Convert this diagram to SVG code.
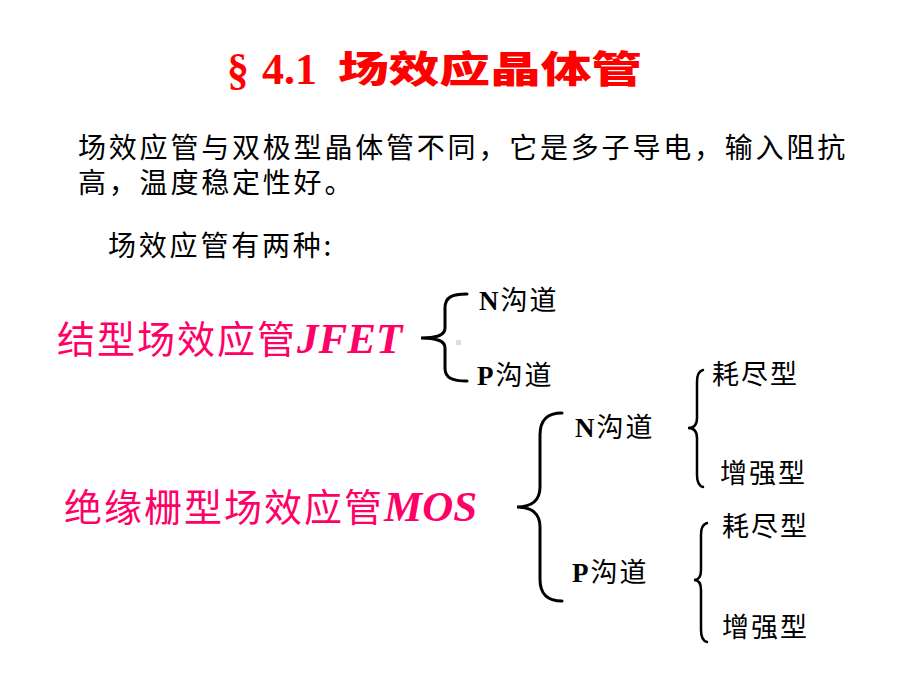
<svg xmlns="http://www.w3.org/2000/svg" width="920" height="690" viewBox="0 0 920 690">
<style>
.cjk{font-family:"Noto Sans CJK SC","Noto Sans",sans-serif;}
.body{font-size:28px;fill:#000;letter-spacing:2.8px;}
.pink{font-size:38px;fill:#FF0066;letter-spacing:2px;}
.pinkLat{font-family:"Liberation Serif",serif;font-weight:bold;font-style:italic;font-size:43px;fill:#FF0066;letter-spacing:0;}
.lab{font-size:27px;fill:#000;letter-spacing:2px;}
.latb{font-family:"Liberation Serif",serif;font-weight:bold;}
.brace{fill:none;stroke:#000;stroke-width:3;stroke-linecap:round;}
.brace2{fill:none;stroke:#000;stroke-width:2.5;stroke-linecap:round;}
</style>
<rect width="920" height="690" fill="#fff"/>
<g id="title">
<text x="227" y="84" font-family="Liberation Serif,serif" font-weight="bold" font-size="44" fill="#FF0000">§</text>
<text x="262" y="84" font-family="Liberation Serif,serif" font-weight="bold" font-size="44" fill="#FF0000">4.1</text>
<text transform="translate(338,83) scale(1,0.78)" x="0" y="0" class="cjk" font-weight="900" font-size="48" fill="#FF0000" textLength="304" lengthAdjust="spacingAndGlyphs">场效应晶体管</text>
</g>
<g id="intro">
<text x="78" y="158" class="cjk body">场效应管与双极型晶体管不同，它是多子导电，输入阻抗</text>
<text x="78" y="193" class="cjk body">高，温度稳定性好。</text>
<text x="108" y="256" class="cjk body">场效应管有两种:</text>
</g>
<g id="jfet">
<text x="57" y="353" class="cjk pink">结型场效应管<tspan class="pinkLat">JFET</tspan></text>
</g>
<g id="mos">
<text x="64" y="521" class="cjk pink">绝缘栅型场效应管<tspan class="pinkLat">MOS</tspan></text>
</g>
<g id="jfet-n"><text x="479" y="310" class="cjk lab"><tspan class="latb">N</tspan>沟道</text></g>
<g id="jfet-p"><text x="477" y="385" class="cjk lab"><tspan class="latb">P</tspan>沟道</text></g>
<g id="mos-n"><text x="575" y="437" class="cjk lab"><tspan class="latb">N</tspan>沟道</text></g>
<g id="mos-p"><text x="572" y="582" class="cjk lab"><tspan class="latb">P</tspan>沟道</text></g>
<g id="mos-n-dep"><text x="712" y="384" class="cjk lab">耗尽型</text></g>
<g id="mos-n-enh"><text x="720" y="483" class="cjk lab">增强型</text></g>
<g id="mos-p-dep"><text x="722" y="536" class="cjk lab">耗尽型</text></g>
<g id="mos-p-enh"><text x="722" y="637" class="cjk lab">增强型</text></g>
<g id="connectors">
<path class="brace" d="M467,294 C452,294 445,297 445,308 L445,328 C445,335 438,338 421,338 C438,338 445,341 445,348 L445,368 C445,378 452,381 467,381"/>
<path class="brace" d="M562,413 C547,413 540,420 540,435 L540,487 C540,500 532,507 517,507 C532,507 540,514 540,527 L540,579 C540,594 547,601 562,601"/>
<path class="brace2" d="M703,370 C699,371 697,375 697,382 L697,418 C697,424 694,428 688,428 C694,428 697,432 697,438 L697,475 C697,482 699,486 703,487"/>
<path class="brace2" d="M707,523 C703,524 701,528 701,535 L701,570 C701,576 699,580 694,580 C699,580 701,584 701,590 L701,630 C701,637 703,641 707,642"/>
</g>
<rect x="456" y="340" width="5" height="5" fill="#ddd"/>
</svg>
